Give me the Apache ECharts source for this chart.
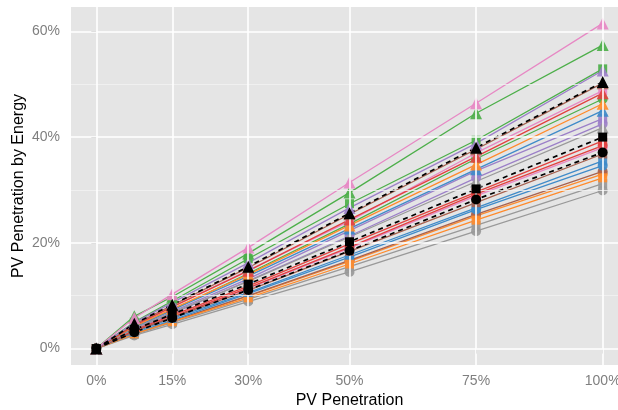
<!DOCTYPE html>
<html>
<head>
<meta charset="utf-8">
<script src="https://cdn.jsdelivr.net/npm/echarts@6/dist/echarts.min.js"></script>
<style>
html, body { margin: 0; padding: 0; background: #ffffff; }
#chart { width: 618px; height: 410px; }
</style>
</head>
<body>
<div id="chart"></div>
<script>
// PV penetration levels (x) in percent
const penetration = [0, 7.5, 15, 30, 50, 75, 100];
const xTicks = [0, 15, 30, 50, 75, 100];
const yTicks = [0, 20, 40, 60];
const yMinorTicks = [10, 30, 50];

// Energy penetration, triangle group
const triPink   = [0, 5.8, 10.3, 19.1, 31.4, 46.4, 61.5];
const triGreen  = [0, 6.1, 9.8, 18.0, 29.5, 44.5, 57.4];
const triPurple = [0, 4.9, 8.7, 16.2, 26.6, 38.8, 52.6];
const triBrown  = [0, 4.6, 8.2, 15.3, 25.4, 37.7, 50.2];
const triRed    = [0, 4.4, 7.9, 14.7, 24.4, 36.3, 48.3];
const triOrange = [0, 4.2, 7.5, 14.0, 23.3, 34.8, 46.3];
const triBlue   = [0, 4.1, 7.3, 13.7, 22.7, 33.9, 45.0];
const triGrey   = [0, 3.8, 6.8, 12.7, 21.1, 31.6, 41.8];
const triMean   = [0, 4.7, 8.3, 15.5, 25.6, 38.0, 50.4];

// Energy penetration, square group
const sqGreen  = [0, 5.0, 9.0, 17.0, 27.4, 39.4, 52.9];
const sqPink   = [0, 4.4, 7.9, 14.8, 24.1, 37.0, 48.8];
const sqPurple = [0, 3.9, 7.0, 13.2, 22.3, 33.6, 43.5];
const sqRed    = [0, 3.5, 6.3, 11.8, 19.8, 29.6, 39.3];
const sqBrown  = [0, 3.3, 5.9, 11.0, 18.4, 27.6, 36.8];
const sqBlue   = [0, 3.1, 5.7, 10.6, 17.7, 26.6, 35.5];
const sqOrange = [0, 2.8, 5.1, 9.6, 16.0, 24.3, 32.3];
const sqGrey   = [0, 2.7, 4.9, 9.3, 15.5, 23.3, 31.2];
const sqMean   = [0, 3.6, 6.5, 12.2, 20.2, 30.2, 40.0];

// Energy penetration, circle group
const ciGreen  = [0, 4.0, 7.3, 14.2, 23.6, 35.9, 47.2];
const ciPurple = [0, 3.6, 6.6, 12.8, 21.3, 32.3, 42.5];
const ciRed    = [0, 3.3, 6.0, 11.5, 19.2, 29.2, 38.4];
const ciPink   = [0, 3.2, 5.9, 11.4, 19.0, 28.9, 38.0];
const ciBlue   = [0, 2.9, 5.4, 10.4, 17.3, 26.3, 34.6];
const ciBrown  = [0, 2.8, 5.2, 10.0, 16.7, 25.4, 33.5];
const ciOrange = [0, 2.8, 5.1, 9.9, 16.5, 25.1, 33.0];
const ciGrey   = [0, 2.5, 4.6, 8.9, 14.5, 22.2, 29.9];
const ciMean   = [0, 3.1, 5.8, 11.1, 18.5, 28.2, 37.1];

const palette = {
  pink: '#E788C4', green: '#4DAF4A', purple: '#9C80C8', brown: '#A6614F',
  red: '#E2423F', orange: '#FF8B2C', blue: '#3F8BC9', grey: '#999999', black: '#000000'
};
const shapes = {
  triangle: { symbol: 'triangle', size: 12 },
  square:   { symbol: 'rect',     size: 9 },
  circle:   { symbol: 'circle',   size: 10 }
};

const lines = [
  ['grey', 'circle', ciGrey], ['orange', 'circle', ciOrange], ['brown', 'circle', ciBrown],
  ['blue', 'circle', ciBlue], ['pink', 'circle', ciPink], ['red', 'circle', ciRed],
  ['purple', 'circle', ciPurple], ['green', 'circle', ciGreen],
  ['grey', 'square', sqGrey], ['orange', 'square', sqOrange], ['blue', 'square', sqBlue],
  ['brown', 'square', sqBrown], ['red', 'square', sqRed], ['purple', 'square', sqPurple],
  ['pink', 'square', sqPink], ['green', 'square', sqGreen],
  ['grey', 'triangle', triGrey], ['blue', 'triangle', triBlue], ['orange', 'triangle', triOrange],
  ['red', 'triangle', triRed], ['brown', 'triangle', triBrown], ['purple', 'triangle', triPurple],
  ['green', 'triangle', triGreen], ['pink', 'triangle', triPink],
  ['black', 'circle', ciMean, true], ['black', 'square', sqMean, true], ['black', 'triangle', triMean, true]
];

const toPoints = vals => penetration.map((x, i) => [x, vals[i]]);

const series = [];

// panel grid lines, placed under the data
series.push({
  type: 'line', data: [], z: 1, silent: true,
  markLine: {
    silent: true, symbol: ['none', 'none'], animation: false,
    label: { show: false },
    data: [
      ...yMinorTicks.map(v => ({ yAxis: v, lineStyle: { color: '#F2F2F2', width: 0.8, type: 'solid' } })),
      ...yTicks.map(v => ({ yAxis: v, lineStyle: { color: '#FFFFFF', width: 1.6, type: 'solid' } })),
      ...xTicks.map(v => ({ xAxis: v, lineStyle: { color: '#FFFFFF', width: 1.6, type: 'solid' } }))
    ]
  }
});

lines.forEach(([col, shape, vals, mean]) => {
  series.push({
    type: 'line', data: toPoints(vals), symbol: 'none', z: mean ? 3 : 2,
    lineStyle: {
      color: palette[col], width: mean ? 1.7 : 1.3, opacity: 1,
      type: mean ? [5, 4] : 'solid'
    }
  });
});

lines.forEach(([col, shape, vals, mean]) => {
  series.push({
    type: 'scatter', data: toPoints(vals), z: mean ? 5 : 4,
    symbol: shapes[shape].symbol, symbolSize: shapes[shape].size,
    itemStyle: { color: palette[col], opacity: mean ? 1 : 0.92 }
  });
});

const chart = echarts.init(document.getElementById('chart'), null, { renderer: 'canvas' });
chart.setOption({
  animation: false,
  textStyle: { fontFamily: 'Liberation Sans, Arial, sans-serif' },
  grid: {
    left: 71, width: 557, top: 7, height: 358,
    outerBoundsMode: 'none',
    show: true, backgroundColor: '#E5E5E5', borderWidth: 0, containLabel: false
  },
  xAxis: {
    type: 'value', min: -5, max: 105,
    name: 'PV Penetration', nameLocation: 'middle', nameGap: 26,
    nameTextStyle: { color: '#000000', fontSize: 16 },
    axisLine: { show: false },
    axisTick: { show: true, customValues: xTicks, length: 5, lineStyle: { color: '#7F7F7F', width: 1 } },
    axisLabel: { customValues: xTicks, formatter: v => v + '%', color: '#7F7F7F', fontSize: 14, margin: 9 },
    splitLine: { show: false }
  },
  yAxis: {
    type: 'value', min: -3.1, max: 64.6,
    name: 'PV Penetration by Energy', nameLocation: 'middle', nameGap: 44, nameRotate: 90,
    nameMoveOverlap: false,
    nameTextStyle: { color: '#000000', fontSize: 16 },
    axisLine: { show: false },
    axisTick: { show: true, customValues: yTicks, length: 5, lineStyle: { color: '#7F7F7F', width: 1 } },
    axisLabel: { customValues: yTicks, formatter: v => v + '%', color: '#7F7F7F', fontSize: 14, margin: 11 },
    splitLine: { show: false }
  },
  series: series
});
</script>
</body>
</html>
